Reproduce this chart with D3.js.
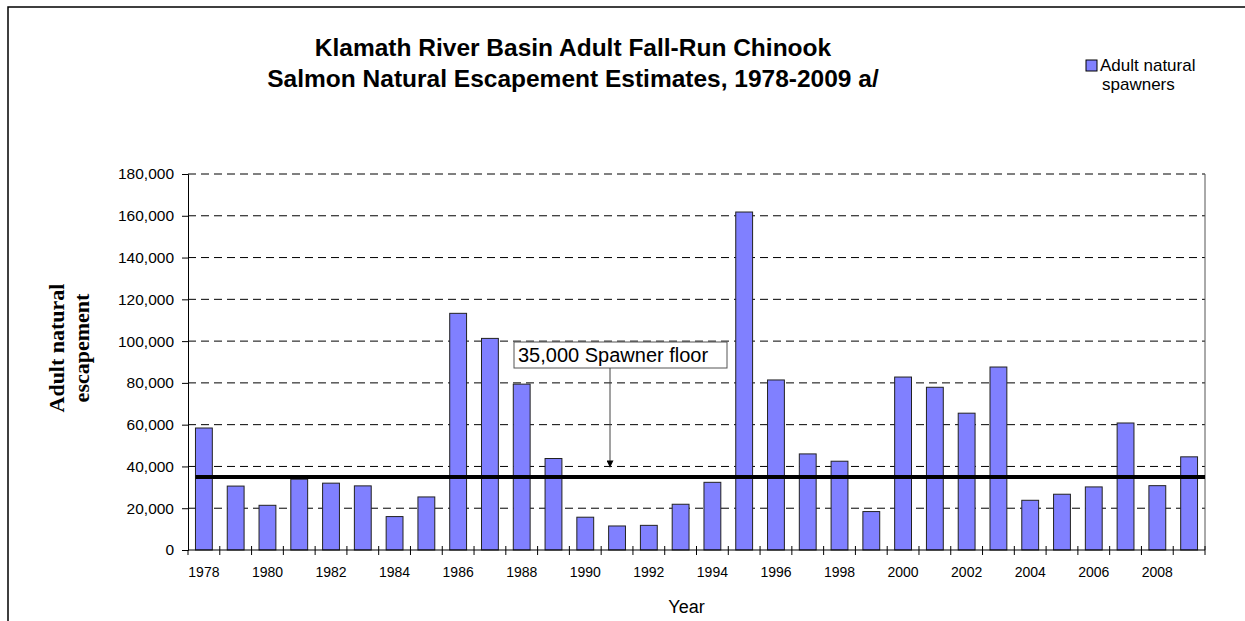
<!DOCTYPE html>
<html>
<head>
<meta charset="utf-8">
<script src="https://cdn.jsdelivr.net/npm/d3@7"></script>
<style>
  body { margin: 0; background: #fff; }
  svg { display: block; font-family: Arial, "Liberation Sans", sans-serif; }
</style>
</head>
<body>
<div id="chart"></div>
<script>
const years = d3.range(1978, 2010);
const spawners = [
  58400, 30600, 21400, 33900, 32000, 30700, 16000, 25400,
  113300, 101300, 79400, 43800, 15700, 11500, 11800, 21900,
  32400, 161800, 81400, 46000, 42500, 18400, 82800, 77900,
  65500, 87600, 23800, 26700, 30200, 60800, 30800, 44600
];
const yTicks = [0, 20000, 40000, 60000, 80000, 100000, 120000, 140000, 160000, 180000];
const xTickYears = d3.range(1978, 2010, 2);
const floorValue = 35000;
const titleLines = [
  "Klamath River Basin Adult Fall-Run Chinook",
  "Salmon Natural Escapement Estimates, 1978-2009 a/"
];
const legendLines = ["Adult natural", "spawners"];
const yTitleLines = ["Adult natural", "escapement"];

const W = 1245, H = 621;
const margin = { top: 174, right: 40, bottom: 71, left: 188 };
const width = W - margin.left - margin.right;
const height = H - margin.top - margin.bottom;
const barColor = "#8080ff";

const svg = d3.select("#chart").append("svg")
  .attr("width", W)
  .attr("height", H);

// outer frame
svg.append("rect")
  .attr("x", 8).attr("y", 7)
  .attr("width", W).attr("height", H)
  .attr("fill", "none")
  .attr("stroke", "#000")
  .attr("stroke-width", 1.5);

// title
svg.append("text")
  .attr("text-anchor", "middle")
  .style("font-weight", "bold")
  .style("font-size", "24.5px")
  .selectAll("tspan")
  .data(titleLines)
  .enter().append("tspan")
  .attr("x", 573)
  .attr("y", (d, i) => 56 + i * 31)
  .text(d => d);

// legend
const legend = svg.append("g");
legend.append("rect")
  .attr("x", 1086).attr("y", 60)
  .attr("width", 11).attr("height", 11)
  .attr("fill", barColor)
  .attr("stroke", "#000");
legend.append("text")
  .style("font-size", "17px")
  .selectAll("tspan")
  .data(legendLines)
  .enter().append("tspan")
  .attr("x", (d, i) => i === 0 ? 1100 : 1102)
  .attr("y", (d, i) => 71 + i * 19)
  .text(d => d);

const g = svg.append("g")
  .attr("transform", `translate(${margin.left},${margin.top})`);

// Scales
const x = d3.scaleBand()
  .domain(years)
  .range([0, width])
  .paddingInner(0.47)
  .paddingOuter(0.235);

const y = d3.scaleLinear()
  .domain([0, 180000])
  .range([height, 0]);

// gridlines
g.append("g")
  .selectAll("line")
  .data(yTicks.slice(1))
  .enter().append("line")
  .attr("x1", 0).attr("x2", width)
  .attr("y1", d => y(d)).attr("y2", d => y(d))
  .attr("stroke", "#000")
  .attr("stroke-width", 1)
  .attr("stroke-dasharray", "8,5");

// right border of plot
g.append("line")
  .attr("x1", width).attr("x2", width)
  .attr("y1", 0).attr("y2", height)
  .attr("stroke", "#555");

// bars
g.append("g")
  .selectAll("rect")
  .data(years)
  .enter().append("rect")
  .attr("x", d => x(d))
  .attr("y", (d, i) => y(spawners[i]))
  .attr("width", x.bandwidth())
  .attr("height", (d, i) => height - y(spawners[i]))
  .attr("fill", barColor)
  .attr("stroke", "#222")
  .attr("stroke-width", 1);

// spawner floor line
g.append("line")
  .attr("x1", x(years[0]))
  .attr("x2", width)
  .attr("y1", y(floorValue)).attr("y2", y(floorValue))
  .attr("stroke", "#000")
  .attr("stroke-width", 4);

// Y axis
const yAxis = g.append("g")
  .call(d3.axisLeft(y).tickValues(yTicks).tickSize(6).tickPadding(8)
    .tickFormat(d3.format(",")));
yAxis.select(".domain").attr("stroke", "#000");
yAxis.selectAll("text")
  .style("font-size", "15.5px")
  .style("font-family", "Arial, 'Liberation Sans', sans-serif")
  .attr("fill", "#000");

// X axis line + boundary ticks
const step = x.step();
const xAxis = g.append("g").attr("transform", `translate(0,${height})`);
xAxis.append("line")
  .attr("x1", 0).attr("x2", width)
  .attr("stroke", "#000");
xAxis.selectAll(".bt")
  .data(years)
  .enter().append("line")
  .attr("class", "bt")
  .attr("x1", d => x(d) - x.paddingOuter() * step + step)
  .attr("x2", d => x(d) - x.paddingOuter() * step + step)
  .attr("y1", -4).attr("y2", 5)
  .attr("stroke", "#000");
xAxis.append("line")
  .attr("x1", 0).attr("x2", 0)
  .attr("y1", 0).attr("y2", 5)
  .attr("stroke", "#000");

// X tick labels
xAxis.selectAll(".xl")
  .data(xTickYears)
  .enter().append("text")
  .attr("class", "xl")
  .attr("x", d => x(d) + x.bandwidth() / 2)
  .attr("y", 27)
  .attr("text-anchor", "middle")
  .style("font-size", "14px")
  .text(d => d);

// X axis title
svg.append("text")
  .attr("x", margin.left + width / 2 - 10)
  .attr("y", 613)
  .attr("text-anchor", "middle")
  .style("font-size", "18px")
  .text("Year");

// Y axis title
svg.append("text")
  .attr("transform", "translate(0,348) rotate(-90)")
  .attr("text-anchor", "middle")
  .style("font-family", "'Liberation Serif', 'Times New Roman', serif")
  .style("font-weight", "bold")
  .style("font-size", "22px")
  .selectAll("tspan")
  .data(yTitleLines)
  .enter().append("tspan")
  .attr("x", 0)
  .attr("y", (d, i) => 64 + i * 25)
  .text(d => d);

// annotation box + arrow
const ann = g.append("g");
const annX = 514 - margin.left, annY = 342 - margin.top;
ann.append("rect")
  .attr("x", annX).attr("y", annY)
  .attr("width", 213).attr("height", 26)
  .attr("fill", "#fff")
  .attr("stroke", "#555");
ann.append("text")
  .attr("x", annX + 4).attr("y", annY + 20)
  .style("font-size", "20px")
  .text("35,000 Spawner floor");

svg.append("defs").append("marker")
  .attr("id", "arrow")
  .attr("viewBox", "0 0 10 10")
  .attr("refX", 10).attr("refY", 5)
  .attr("markerWidth", 7).attr("markerHeight", 7)
  .attr("orient", "auto")
  .append("path")
  .attr("d", "M0,0 L10,5 L0,10 Z")
  .attr("fill", "#000");

ann.append("line")
  .attr("x1", 610 - margin.left).attr("x2", 610 - margin.left)
  .attr("y1", annY + 26).attr("y2", y(40000) + 1)
  .attr("stroke", "#444")
  .attr("stroke-width", 1)
  .attr("marker-end", "url(#arrow)");
</script>
</body>
</html>
